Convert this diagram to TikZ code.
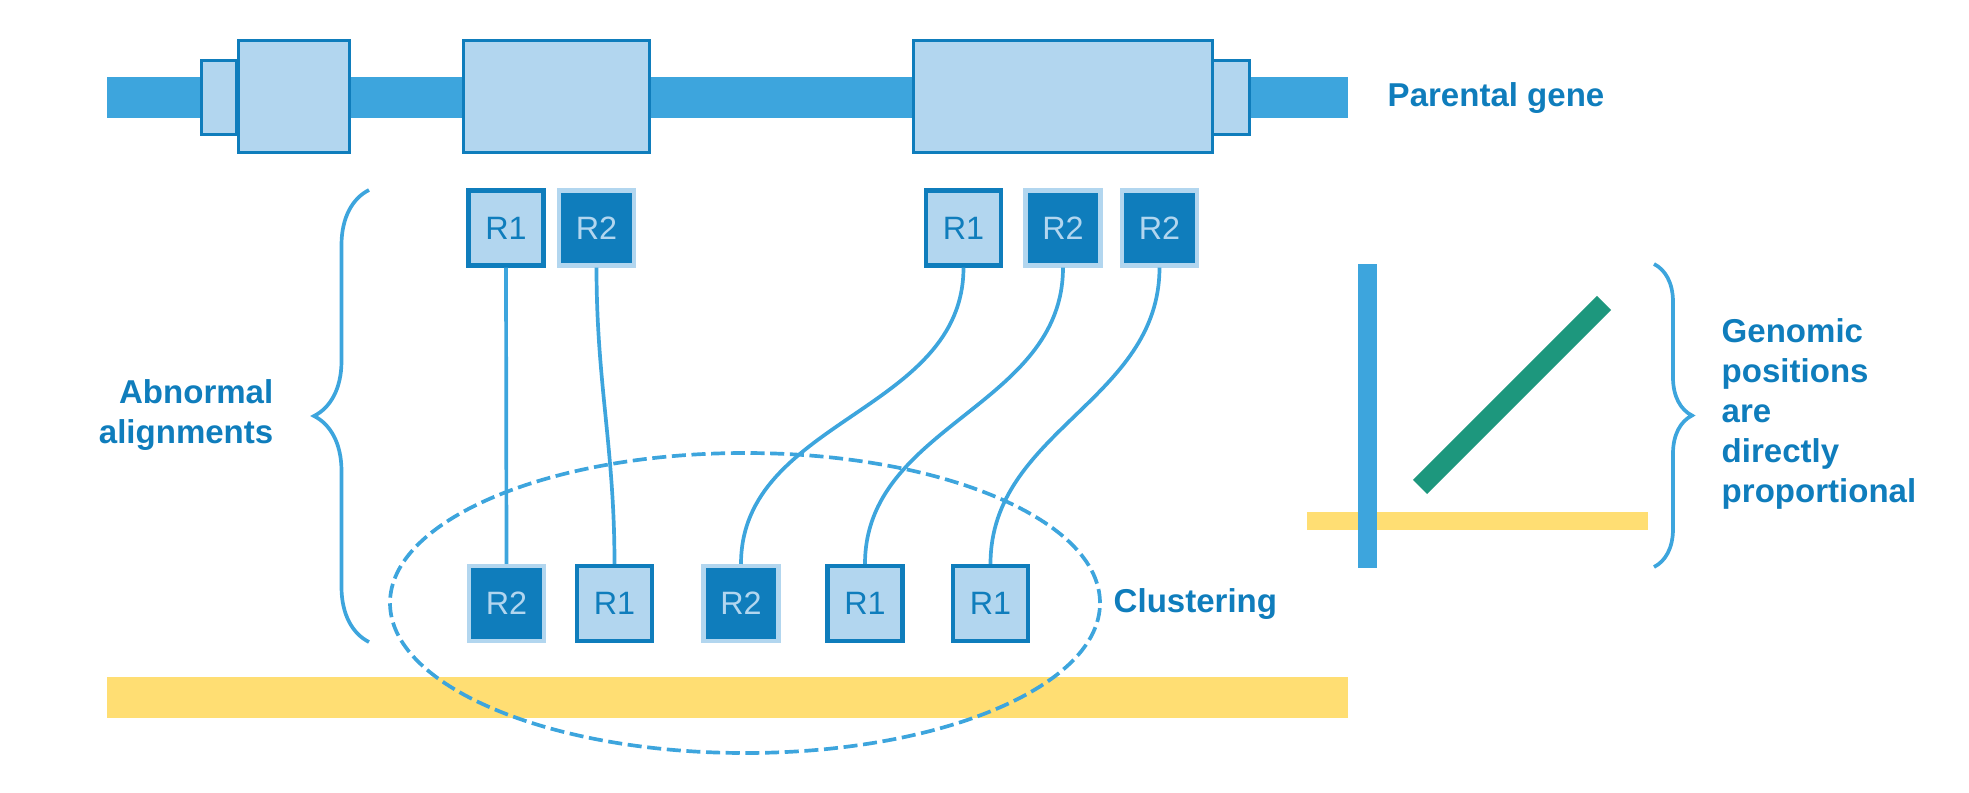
\documentclass[tikz,border=0pt]{standalone}
\usepackage{fontspec}
\setmainfont{Liberation Sans}
\usepackage{tikz}
\usetikzlibrary{decorations.pathreplacing}

\definecolor{darkblue}{HTML}{0F7DBC}
\definecolor{midblue}{HTML}{3DA5DD}
\definecolor{paleblue}{HTML}{B2D6EF}
\definecolor{sunyellow}{HTML}{FFDE73}
\definecolor{leafgreen}{HTML}{1D977D}

\begin{document}
\begin{tikzpicture}[x=0.1mm, y=-0.1mm,
        readone/.style={rectangle, draw=darkblue, fill=paleblue, line width=1.15pt, minimum size=7.5mm, inner sep=0pt, text=darkblue, font=\fontsize{9.2}{11}\selectfont},
        readtwo/.style={readone, draw=paleblue, fill=darkblue, text=paleblue},
        exon/.style={draw=darkblue, fill=paleblue, line width=0.95pt},
        link/.style={midblue, line width=1.05pt},
        cluster/.style={midblue, line width=1.05pt, dash pattern=on 4pt off 1.6pt},
        bracket/.style={midblue, line width=1.05pt, decorate},
        tagtext/.style={text=darkblue, inner sep=0pt, font=\fontsize{9.4}{11.4}\selectfont\bfseries}]
        \useasboundingbox (0,0) rectangle (1969,793);

        % Parental gene
        \fill[midblue] (107,77) rectangle (1348,118);
        \draw[exon] (201.5,60.5) rectangle (236.5,134.5);
        \draw[exon] (238.5,40.5) rectangle (349.5,152.5);
        \draw[exon] (463.5,40.5) rectangle (649.5,152.5);
        \draw[exon] (1212.5,60.5) rectangle (1249.5,134.5);
        \draw[exon] (913.5,40.5) rectangle (1212.5,152.5);

        % Other locus
        \fill[sunyellow] (107,677) rectangle (1348,718);

        % Nodes
        \node[readone] (top1) at (506,228) {R1};
        \node[readtwo] (top2) at (596.5,228) {R2};
        \node[readone] (top3) at (963.5,228) {R1};
        \node[readtwo] (top4) at (1063,228) {R2};
        \node[readtwo] (top5) at (1159.5,228) {R2};

        \node[readtwo] (bot1) at (506.5,603.5) {R2};
        \node[readone] (bot2) at (614.5,603.5) {R1};
        \node[readtwo] (bot3) at (741,603.5) {R2};
        \node[readone] (bot4) at (865,603.5) {R1};
        \node[readone] (bot5) at (990.5,603.5) {R1};

        % Edges
        \draw[link] (top1.south) -- (bot1.north);
        \draw[link] (top2.south) to[out=-90, in=90] (bot2.north);
        \draw[link] (top3.south) to[out=-90, in=90] (bot3.north);
        \draw[link] (top4.south) to[out=-90, in=90] (bot4.north);
        \draw[link] (top5.south) to[out=-90, in=90] (bot5.north);

        % Cluster
        \draw[cluster] (745,603) ellipse [x radius=35.5mm, y radius=15mm];

        % Braces
        \draw[bracket, decoration={brace, amplitude=5.5mm, mirror}] (369,190) -- (369,642);
        \draw[bracket, decoration={brace, amplitude=3.8mm}] (1654,264) -- (1654,567);

        % Dot plot
        \fill[sunyellow] (1307,512) rectangle (1648,530);
        \fill[midblue] (1358,264) rectangle (1377,568);
        \draw[leafgreen, line width=5.7pt] (1420,487) -- (1604,303);

        % Labels
        \node[tagtext, anchor=base west] (gene) at (1387,107) {Parental gene};
        \node[tagtext, anchor=base west] (clust) at (1113,612) {Clustering};
        \node[tagtext, anchor=east, align=right] (abnorm) at (274,415) {Abnormal\\alignments};
        \node[tagtext, anchor=west, align=left] (propor) at (1721,414) {Genomic\\positions\\are\\directly\\proportional};

    \end{tikzpicture}
\end{document}
